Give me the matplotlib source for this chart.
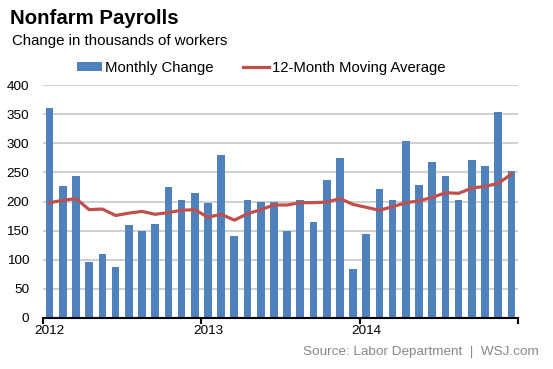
import matplotlib
matplotlib.use("Agg")
import matplotlib.pyplot as plt
import numpy as np

plt.rcParams['font.family'] = ['Liberation Sans', 'DejaVu Sans']

monthly_change = [360, 226, 243, 96, 110, 88, 160, 150, 161, 225, 203, 214,
                  197, 280, 141, 203, 199, 200, 149, 202, 164, 237, 274, 84,
                  144, 222, 203, 304, 229, 267, 243, 203, 271, 261, 353, 252]
moving_avg = [198, 202, 205, 186, 187, 176, 180, 183, 178, 181, 185, 186,
              173, 178, 168, 179, 186, 194, 194, 198, 198, 199, 205, 195,
              190, 185, 191, 198, 201, 207, 215, 214, 223, 226, 231, 247]
year_labels = ['2012', '2013', '2014']
y_ticks = [0, 50, 100, 150, 200, 250, 300, 350, 400]

fig = plt.figure(figsize=(5.53, 3.69), dpi=100)
ax = fig.add_axes([43/553, 1-318/369, (518-43)/553, (318-85)/369])

x = np.arange(len(monthly_change)) + 0.5
bars = ax.bar(x, monthly_change, width=0.58, color='#4F81BD', zorder=2, label='Monthly Change')
line, = ax.plot(x, moving_avg, color='#C0504D', lw=2.3, zorder=3, label='12-Month Moving Average')

ax.set_xlim(0, 36)
ax.set_ylim(0, 400)
ax.set_yticks(y_ticks)
ax.yaxis.grid(True, color='#C8C8C8', lw=1.2, zorder=0)
ax.set_xticks([0, 12, 24, 36])
ax.set_xticklabels([])
ax.set_xticks([0.5, 12.5, 24.5], minor=True)
ax.set_xticklabels(year_labels, minor=True)
for s in ['left', 'right', 'top']:
    ax.spines[s].set_visible(False)
ax.spines['bottom'].set_color('black')
ax.spines['bottom'].set_linewidth(1.5)
ax.tick_params(axis='y', length=0, labelsize=9.7, pad=10)
ax.tick_params(axis='x', which='major', direction='out', length=4, width=1.5)
ax.tick_params(axis='x', which='minor', length=0, labelsize=9.7, pad=5)

fig.text(10/553, 1-18/369, 'Nonfarm Payrolls', fontsize=14.7, fontweight='bold', va='center', ha='left')
fig.text(12/553, 1-41/369, 'Change in thousands of workers', fontsize=10.8, va='center', ha='left')
fig.text(539/553, 1-352/369, 'Source: Labor Department  |  WSJ.com', fontsize=9.7, color='#888888', va='center', ha='right')

fig.legend(handles=[bars, line], labels=['Monthly Change', '12-Month Moving Average'],
           loc='center', bbox_to_anchor=(261/553, 1-68/369), ncol=2, frameon=False,
           fontsize=10.7, handlelength=1.7, handletextpad=0.2, columnspacing=2.0,
           handleheight=0.5)

fig.savefig('out.png', dpi=100)
